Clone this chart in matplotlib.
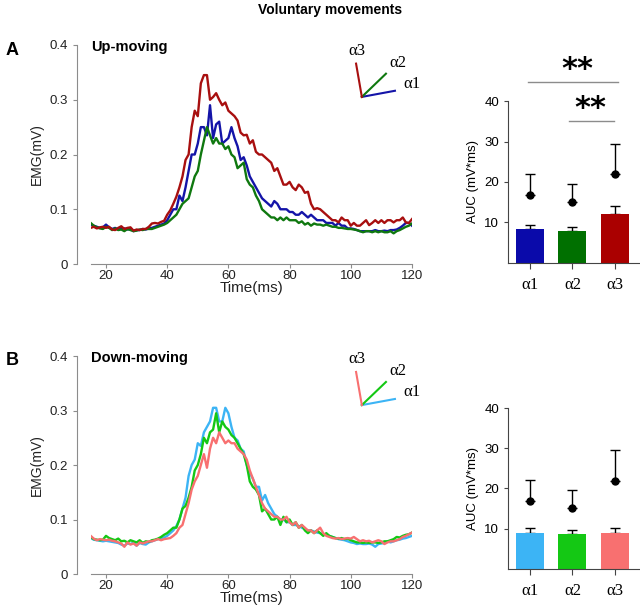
import numpy as np
import matplotlib
matplotlib.use("Agg")
import matplotlib.pyplot as plt

# time axis, 1 ms steps
t = np.arange(15, 121)

# Up-moving EMG traces (mV)
up_a1 = [.072, .070, .068, .066, .067, .072, .067, .064, .066, .063,
         .066, .065, .063, .064, .060, .062, .062, .064, .063, .065,
         .066, .068, .070, .072, .074, .080, .090, .100, .100, .125,
         .115, .140, .170, .200, .200, .220, .250, .250, .235, .290,
         .230, .255, .260, .220, .225, .230, .250, .230, .215, .190,
         .195, .180, .160, .150, .140, .130, .120, .115, .110, .105,
         .115, .110, .100, .100, .100, .095, .095, .090, .090, .095,
         .090, .085, .090, .085, .080, .080, .080, .075, .075, .075,
         .070, .075, .070, .070, .065, .065, .064, .062, .060, .060,
         .060, .060, .060, .062, .060, .060, .061, .060, .062, .062,
         .063, .066, .070, .075, .075, .070]
up_a2 = [.075, .070, .067, .065, .064, .068, .066, .062, .065, .062,
         .063, .060, .064, .062, .060, .061, .063, .062, .064, .064,
         .064, .066, .068, .070, .072, .075, .080, .085, .090, .100,
         .110, .115, .120, .140, .160, .170, .200, .225, .250, .235,
         .220, .230, .220, .220, .210, .215, .200, .195, .175, .180,
         .185, .155, .145, .140, .125, .115, .100, .095, .090, .085,
         .085, .080, .085, .080, .085, .080, .080, .080, .075, .078,
         .072, .075, .070, .074, .072, .072, .070, .072, .070, .068,
         .068, .066, .066, .065, .064, .064, .063, .062, .060, .058,
         .060, .060, .058, .060, .058, .060, .058, .058, .060, .056,
         .060, .062, .065, .068, .070, .074]
up_a3 = [.066, .068, .065, .067, .068, .066, .068, .063, .062, .066,
         .069, .064, .066, .067, .061, .063, .062, .064, .064, .068,
         .074, .075, .074, .077, .079, .090, .098, .110, .123, .140,
         .160, .190, .200, .250, .280, .270, .330, .345, .345, .300,
         .305, .312, .300, .290, .295, .280, .275, .270, .262, .240,
         .235, .236, .220, .226, .205, .200, .200, .195, .190, .185,
         .170, .175, .160, .145, .145, .150, .140, .135, .145, .140,
         .130, .132, .110, .100, .102, .100, .095, .090, .085, .080,
         .080, .076, .085, .080, .080, .070, .075, .070, .070, .075,
         .080, .071, .075, .080, .075, .080, .075, .080, .080, .076,
         .080, .080, .085, .076, .075, .082]

# Down-moving EMG traces (mV)
down_a1 = [.066, .063, .062, .061, .060, .061, .060, .059, .058, .057,
           .054, .052, .056, .055, .058, .052, .057, .055, .054, .058,
           .060, .062, .064, .066, .067, .070, .075, .080, .088, .100,
           .120, .140, .180, .200, .210, .240, .235, .260, .270, .280,
           .305, .305, .280, .280, .305, .295, .270, .250, .245, .230,
           .225, .200, .185, .175, .160, .160, .135, .145, .130, .120,
           .110, .105, .100, .100, .095, .095, .090, .090, .088, .085,
           .082, .080, .080, .078, .076, .075, .073, .072, .070, .068,
           .066, .064, .063, .062, .060, .058, .057, .055, .056, .055,
           .055, .056, .054, .050, .055, .056, .057, .060, .058, .060,
           .062, .063, .065, .066, .068, .070]
down_a2 = [.068, .064, .063, .062, .063, .070, .066, .064, .062, .065,
           .060, .061, .058, .062, .060, .058, .062, .057, .060, .059,
           .062, .063, .065, .068, .072, .075, .080, .085, .085, .100,
           .120, .125, .140, .160, .190, .200, .220, .250, .240, .260,
           .265, .295, .260, .280, .270, .265, .255, .250, .240, .230,
           .220, .200, .170, .160, .155, .145, .115, .120, .110, .100,
           .100, .105, .090, .105, .095, .100, .090, .095, .085, .090,
           .080, .075, .080, .075, .080, .075, .070, .075, .070, .068,
           .066, .065, .066, .064, .065, .062, .060, .058, .058, .057,
           .058, .057, .058, .058, .057, .058, .060, .060, .062, .064,
           .068, .067, .070, .072, .073, .076]
down_a3 = [.070, .065, .062, .064, .063, .062, .063, .061, .060, .058,
           .056, .050, .058, .054, .056, .052, .058, .056, .058, .060,
           .060, .062, .064, .062, .064, .065, .066, .070, .075, .085,
           .090, .110, .130, .155, .170, .180, .200, .220, .195, .230,
           .250, .240, .260, .250, .240, .245, .240, .240, .230, .225,
           .220, .210, .190, .175, .160, .145, .130, .120, .115, .110,
           .105, .105, .100, .100, .105, .095, .090, .095, .085, .090,
           .085, .080, .080, .075, .080, .085, .075, .070, .068, .066,
           .065, .066, .064, .065, .066, .065, .068, .064, .060, .062,
           .060, .061, .058, .060, .062, .060, .055, .058, .060, .060,
           .062, .064, .068, .070, .073, .076]

# AUC bars (mV*ms): bar mean, bar error, dot value, dot error
groups = ["\u03b11", "\u03b12", "\u03b13"]
up_bar = [8.5, 7.9, 12.2]
up_bar_err = [1.0, 1.1, 1.8]
down_bar = [9.0, 8.6, 8.9]
down_bar_err = [1.3, 1.1, 1.2]
dot_val = [16.8, 15.1, 21.9]
dot_err = [5.2, 4.5, 7.6]

up_colors = ["#1414a8", "#0f780f", "#a80f0f"]
down_colors = ["#3cb4f5", "#14c814", "#f87070"]
bar_up_colors = ["#0a0aaa", "#007000", "#aa0000"]

plt.rcParams["font.family"] = ["Liberation Sans", "DejaVu Sans"]
gray = "#8c8c8c"
serif = ["Liberation Serif", "DejaVu Serif"]

fig = plt.figure(figsize=(6.4, 6.13), dpi=100)


def line_panel(rect, traces, colors, name):
    ax = fig.add_axes(rect)
    for y, c in zip(traces, colors):
        ax.plot(t, y, color=c, lw=1.7)
    ax.set_xlim(15, 120)
    ax.set_ylim(0, 0.4)
    ax.set_xticks([20, 40, 60, 80, 100, 120])
    ax.set_yticks([0, 0.1, 0.2, 0.3, 0.4])
    ax.set_yticklabels(["0", "0.1", "0.2", "0.3", "0.4"])
    for s in ["top", "right"]:
        ax.spines[s].set_visible(False)
    for s in ["left", "bottom"]:
        ax.spines[s].set_color(gray)
    ax.spines["left"].set_position(("outward", 10))
    ax.tick_params(colors=gray, labelcolor="#222222", labelsize=9.5, length=3)
    ax.tick_params(axis="x", pad=1.5)
    ax.set_xlabel("Time(ms)", fontsize=11, labelpad=-1, color="#222222")
    ax.set_ylabel("EMG(mV)", fontsize=10, color="#222222")
    ax.text(0.0, 0.99, name, transform=ax.transAxes, fontsize=10.5,
            fontweight="bold", va="center", ha="left")
    return ax


def glyph(ax, colors, oy):
    ox = 0.844
    ends = [(0.947, oy + 0.028), (0.919, oy + 0.106), (0.826, oy + 0.152)]
    for (ex, ey), c in zip(ends, colors):
        ax.plot([ox, ex], [oy, ey], color=c, lw=1.5, transform=ax.transAxes,
                clip_on=False)
    labels = [(1.0, oy + 0.06), (0.956, oy + 0.155), (0.83, oy + 0.21)]
    for (lx, ly), g in zip(labels, groups):
        ax.text(lx, ly, g, transform=ax.transAxes, fontsize=12,
                family=serif, ha="center", va="center")


def bar_panel(rect, vals, errs, colors):
    ax = fig.add_axes(rect)
    x = np.arange(3)
    ax.bar(x, vals, width=0.66, color=colors, zorder=2)
    ax.errorbar(x, vals, yerr=[np.zeros(3), errs], fmt="none",
                ecolor="black", elinewidth=1, capsize=3.5, zorder=1)
    ax.errorbar(x, dot_val, yerr=[np.zeros(3), dot_err], fmt="o",
                color="black", ms=5, elinewidth=1, capsize=3.5)
    ax.set_xlim(-0.52, 2.6)
    ax.set_ylim(0, 40)
    ax.set_yticks([10, 20, 30, 40])
    ax.set_xticks(x)
    ax.set_xticklabels(groups, family=serif, fontsize=12)
    for s in ["top", "right"]:
        ax.spines[s].set_visible(False)
    ax.spines["left"].set_color("#444444")
    ax.spines["bottom"].set_color("#444444")
    ax.tick_params(axis="y", labelsize=9.5, length=3, color="#444444")
    ax.tick_params(axis="x", length=4, color="#444444", pad=6)
    ax.set_ylabel("AUC (mV*ms)", fontsize=9.5)
    return ax


ax1 = line_panel([0.1417, 0.5693, 0.502, 0.3573], [up_a1, up_a2, up_a3],
                 up_colors, "Up-moving")
glyph(ax1, up_colors, 0.763)
ax2 = line_panel([0.1417, 0.0636, 0.502, 0.3556], [down_a1, down_a2, down_a3],
                 down_colors, "Down-moving")
glyph(ax2, down_colors, 0.775)

bx1 = bar_panel([0.794, 0.571, 0.206, 0.2642], up_bar, up_bar_err, bar_up_colors)
bx1.plot([-0.05, 2.07], [44.7, 44.7], color=gray, lw=1, clip_on=False)
bx1.text(1.11, 47.8, "**", fontsize=22, fontweight="bold", ha="center",
         va="center", family="DejaVu Sans")
bx1.plot([0.92, 1.98], [35.1, 35.1], color=gray, lw=1, clip_on=False)
bx1.text(1.42, 38.2, "**", fontsize=22, fontweight="bold", ha="center",
         va="center", family="DejaVu Sans")
bx2 = bar_panel([0.794, 0.0718, 0.206, 0.2626], down_bar, down_bar_err,
                down_colors)

fig.text(0.516, 0.984, "Voluntary movements", fontsize=10, fontweight="bold",
         ha="center", va="center")
fig.text(0.019, 0.918, "A", fontsize=13, fontweight="bold", ha="center",
         va="center")
fig.text(0.019, 0.412, "B", fontsize=13, fontweight="bold", ha="center",
         va="center")

fig.savefig("out.png", dpi=100)
